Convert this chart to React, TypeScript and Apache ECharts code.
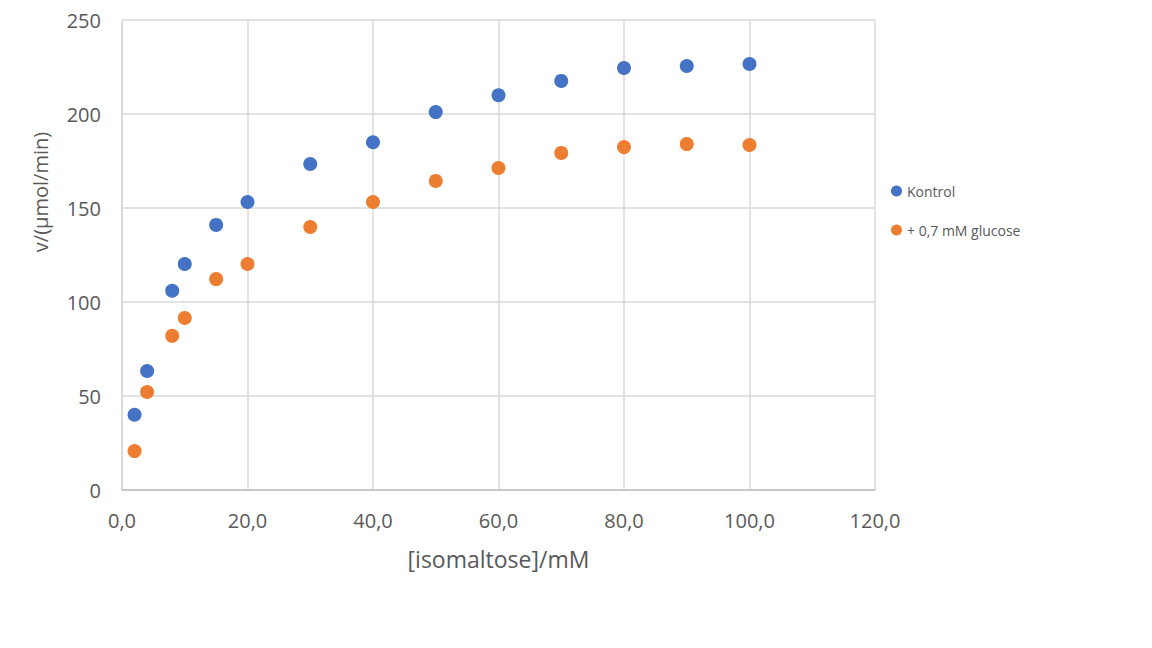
import { useEffect, useRef } from 'react';
import * as echarts from 'echarts';

const concentrations = [2, 4, 8, 10, 15, 20, 30, 40, 50, 60, 70, 80, 90, 100];
const kontrol = [40, 63.3, 106, 120.2, 141, 153.2, 173.4, 185, 201, 210, 217.6, 224.5, 225.5, 226.6];
const withGlucose = [20.7, 52.1, 82, 91.5, 112.2, 120.2, 139.9, 153.2, 164.4, 171.3, 179.3, 182.4, 184, 183.5];

const FONT = '"Open Sans", sans-serif';
const TEXT = '#595959';

const pairs = (ys: number[]) => concentrations.map((x, i) => [x, ys[i]]);

export default function App() {
  const ref = useRef<HTMLDivElement | null>(null);

  useEffect(() => {
    document.body.style.margin = '0';
    if (!ref.current) return;
    const chart = echarts.init(ref.current, undefined, { renderer: 'svg' });
    chart.setOption({
      animation: false,
      backgroundColor: '#fff',
      textStyle: { fontFamily: FONT },
      grid: { left: 122, top: 20, width: 753, height: 470, containLabel: false },
      legend: {
        orient: 'vertical',
        left: 886,
        top: 179,
        itemGap: 25,
        itemWidth: 11,
        itemHeight: 11,
        textStyle: { color: TEXT, fontSize: 14, fontFamily: FONT },
        data: [
          { name: 'Kontrol', icon: 'circle' },
          { name: '+ 0,7 mM glucose', icon: 'circle' },
        ],
      },
      // y-axis title sits above the plot centre in the original, so it is placed by hand
      graphic: [
        {
          type: 'text',
          x: 40,
          y: 192,
          rotation: Math.PI / 2,
          style: {
            text: 'v/(µmol/min)',
            fill: TEXT,
            font: `20px ${FONT}`,
            textAlign: 'center',
            textVerticalAlign: 'middle',
          },
        },
      ],
      xAxis: {
        type: 'value',
        min: 0,
        max: 120,
        interval: 20,
        name: '[isomaltose]/mM',
        nameLocation: 'middle',
        nameGap: 57,
        nameTextStyle: { color: TEXT, fontSize: 23, fontFamily: FONT },
        axisLine: { show: true, lineStyle: { color: '#bfbfbf', width: 1.5 } },
        axisTick: { show: false },
        axisLabel: {
          color: TEXT,
          fontSize: 20,
          margin: 20,
          formatter: (v: number) => v.toFixed(1).replace('.', ','),
        },
        splitLine: { show: true, lineStyle: { color: '#d9d9d9', width: 1.5 } },
      },
      yAxis: {
        type: 'value',
        min: 0,
        max: 250,
        interval: 50,
        axisLine: { show: true, lineStyle: { color: '#d9d9d9', width: 1.5 } },
        axisTick: { show: false },
        axisLabel: { color: TEXT, fontSize: 20, margin: 21 },
        splitLine: { show: true, lineStyle: { color: '#d9d9d9', width: 1.5 } },
      },
      series: [
        {
          name: 'Kontrol',
          type: 'scatter',
          symbolSize: 14,
          itemStyle: { color: '#4472c4', opacity: 1 },
          data: pairs(kontrol),
        },
        {
          name: '+ 0,7 mM glucose',
          type: 'scatter',
          symbolSize: 14,
          itemStyle: { color: '#ed7d31', opacity: 1 },
          data: pairs(withGlucose),
        },
      ],
    });
    return () => chart.dispose();
  }, []);

  return <div ref={ref} style={{ width: 1152, height: 648 }} />;
}
